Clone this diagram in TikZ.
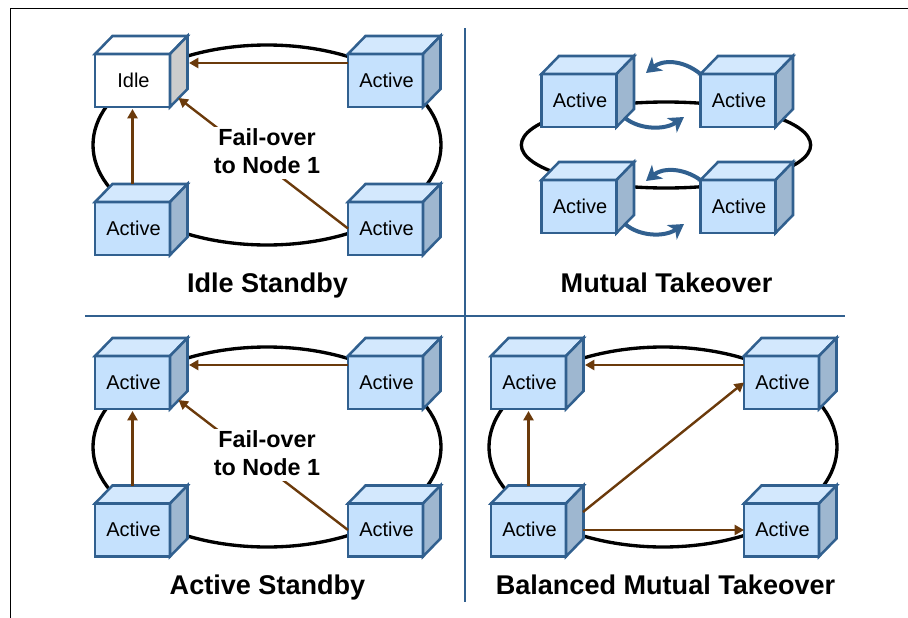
\documentclass[tikz,border=0pt]{standalone}
\usepackage{fontspec}
\setmainfont{Liberation Sans}
\usetikzlibrary{arrows.meta,calc,shapes.geometric}
\definecolor{activefront}{HTML}{C5E1FD}
\definecolor{activetop}{HTML}{D3E8FD}
\definecolor{activeside}{HTML}{9EB7D0}
\definecolor{idlefront}{HTML}{FFFFFF}
\definecolor{idletop}{HTML}{FFFFFF}
\definecolor{idleside}{HTML}{CCCCCC}
\definecolor{edgeblue}{HTML}{31608F}
\definecolor{linkbrown}{HTML}{6B3A0B}
\tikzset{
    frontface/.style={draw=edgeblue, line width=1.9pt, line join=miter, inner sep=0pt, outer sep=0pt,
        minimum width=56.25pt, minimum height=39.75pt, font=\fontsize{15}{18}\selectfont},
    cubeface/.style={draw=edgeblue, line width=1.9pt, line join=miter},
    ring/.style={ellipse, draw=black, line width=2.5pt, inner sep=0pt, outer sep=0pt},
    link/.style={draw=linkbrown, line width=1.8pt, -{Triangle[length=7pt,width=7.5pt]}},
    swap/.style={draw=edgeblue, line width=3pt, -{Stealth[length=11pt,width=13pt,inset=3pt]}},
    divider/.style={draw=edgeblue, line width=1.6pt},
    paneltitle/.style={anchor=base, font=\bfseries\fontsize{20.3}{24}\selectfont},
    failnote/.style={fill=white, inner sep=1pt, align=center, font=\bfseries\fontsize{17.5}{21}\selectfont},
}
\newcommand{\serverbox}[4]{
    \node[frontface, fill=#4front] (#1) at (#2) {\hspace*{1.5pt}\raisebox{0.75pt}{#3}};
    \draw[cubeface, fill=#4top] (#1.north west) -- ++(17.5,-18) -- ++(75,0) -- (#1.north east) -- cycle;
    \draw[cubeface, fill=#4side] (#1.north east) -- ++(17.5,-18) -- ++(0,53) -- (#1.south east) -- cycle;
    \coordinate (#1-corner) at ($(#1.south east)+(8.5,-9)$);
}
\begin{document}
\begin{tikzpicture}[x=0.75pt, y=-0.75pt]
    \useasboundingbox (0,0) rectangle (908,618);
    \coordinate (framea) at (10.5,618);
    \coordinate (frameb) at (10.5,8.5);
    \coordinate (framec) at (908,8.5);
    \draw[line width=0.9pt] (framea) -- (frameb) -- (framec);

    \coordinate (divtop) at (465,28);
    \coordinate (divbottom) at (465,602);
    \coordinate (divleft) at (85,316);
    \coordinate (divright) at (845,316);
    \draw[divider] (divtop) -- (divbottom);
    \draw[divider] (divleft) -- (divright);

    \node[ring, minimum width=261pt, minimum height=150pt] (ringa) at (267,145) {};
    \node[ring, minimum width=217pt, minimum height=64.5pt] (ringb) at (666,145) {};
    \node[ring, minimum width=261pt, minimum height=150pt] (ringc) at (267,447) {};
    \node[ring, minimum width=261pt, minimum height=150pt] (ringd) at (663,447) {};

    \serverbox{ia}{132.5,80.5}{Idle}{idle}
    \serverbox{ib}{385.5,80.5}{Active}{active}
    \serverbox{ic}{132.5,228.5}{Active}{active}
    \serverbox{id}{385.5,228.5}{Active}{active}
    \draw[link] ($(ib.west)+(0,-17.5)$) -- ($(ia.east)+(19,-17.5)$);
    \draw[link] ($(ic.north)+(0,-18)$) -- ($(ia.south)+(0,2)$);
    \draw[link] (id.west) -- (ia-corner);
    \node[failnote] (failnotea) at (267,153) {Fail-over\\to Node 1\rule[-3pt]{0pt}{3pt}};
    \node[paneltitle] (titlea) at (267.5,292) {Idle Standby};

    \serverbox{ma}{579,100.5}{Active}{active}
    \serverbox{mb}{738,100.5}{Active}{active}
    \serverbox{mc}{579,206.5}{Active}{active}
    \serverbox{md}{738,206.5}{Active}{active}
    \coordinate (swapa) at (646,73);
    \coordinate (swapb) at (684,117);
    \coordinate (swapc) at (646,181);
    \coordinate (swapd) at (684,224);
    \draw[swap] (mb.north west) .. controls (682,59) and (662,60) .. (swapa);
    \draw[swap] (ma-corner) .. controls (640,130) and (665,130) .. (swapb);
    \draw[swap] (md.north west) .. controls (682,167) and (662,168) .. (swapc);
    \draw[swap] (mc-corner) .. controls (640,237) and (665,237) .. (swapd);
    \node[paneltitle] (titleb) at (666.5,292) {Mutual Takeover};

    \serverbox{sa}{132.5,382.5}{Active}{active}
    \serverbox{sb}{385.5,382.5}{Active}{active}
    \serverbox{sc}{132.5,530}{Active}{active}
    \serverbox{sd}{385.5,530}{Active}{active}
    \draw[link] ($(sb.west)+(0,-17.5)$) -- ($(sa.east)+(19,-17.5)$);
    \draw[link] ($(sc.north)+(0,-18)$) -- ($(sa.south)+(0,2)$);
    \draw[link] (sd.west) -- (sa-corner);
    \node[failnote] (failnoteb) at (267,455) {Fail-over\\to Node 1\rule[-3pt]{0pt}{3pt}};
    \node[paneltitle] (titlec) at (267.5,594) {Active Standby};

    \serverbox{ba}{528.5,382.5}{Active}{active}
    \serverbox{bb}{781.5,382.5}{Active}{active}
    \serverbox{bc}{528.5,530}{Active}{active}
    \serverbox{bd}{781.5,530}{Active}{active}
    \draw[link] ($(bb.west)+(0,-17.5)$) -- ($(ba.east)+(19,-17.5)$);
    \draw[link] ($(bc.north)+(0,-18)$) -- ($(ba.south)+(0,2)$);
    \draw[link] ($(bc.east)+(17,-18)$) -- (bb.west);
    \draw[link] ($(bc.east)+(17,0)$) -- (bd.west);
    \node[paneltitle] (titled) at (665.5,594) {Balanced Mutual Takeover};
\end{tikzpicture}
\end{document}
